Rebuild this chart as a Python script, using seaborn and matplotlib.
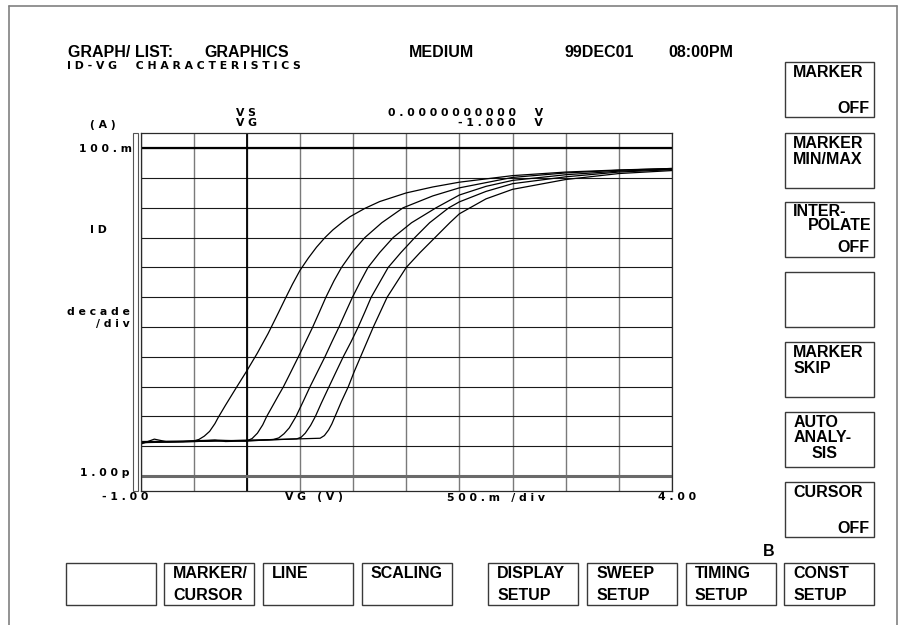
import numpy as np
import pandas as pd
import matplotlib
matplotlib.use("Agg")
import matplotlib.pyplot as plt
import seaborn as sns
from matplotlib.patches import Rectangle
from matplotlib.lines import Line2D
from matplotlib.ticker import NullLocator

sns.set_style("white")
plt.rcParams['font.family'] = ['Liberation Sans', 'DejaVu Sans']

# ID-VG sweep, five curves; ID stored as log10(A)
vg_1 = [-1.0, -0.87, -0.75, -0.6, -0.5, -0.45, -0.4, -0.35, -0.3, -0.27, -0.2, -0.1, 0.0, 0.1, 0.2,
        0.3, 0.36, 0.43, 0.5, 0.58, 0.656, 0.735, 0.81, 0.9, 0.97, 1.11, 1.25, 1.5, 1.75, 2.0, 2.5,
        3.0, 3.5, 4.0]
id_1 = [-10.93, -10.76, -10.85, -10.84, -10.82, -10.77, -10.66, -10.5, -10.24, -10.04, -9.62, -9.04,
        -8.47, -7.87, -7.22, -6.5, -6.06, -5.56, -5.1, -4.68, -4.32, -4.0, -3.74, -3.48, -3.3, -3.02,
        -2.79, -2.5, -2.3, -2.14, -1.92, -1.8, -1.73, -1.68]

vg_2 = [-1.0, -0.75, -0.5, -0.3, -0.2, 0.0, 0.05, 0.1, 0.15, 0.187, 0.25, 0.3, 0.345, 0.4, 0.485,
        0.55, 0.62, 0.68, 0.744, 0.82, 0.891, 1.0, 1.11, 1.27, 1.47, 1.75, 2.0, 2.5, 3.0, 3.5, 4.0]
id_2 = [-10.88, -10.84, -10.83, -10.8, -10.84, -10.82, -10.74, -10.56, -10.28, -10.0, -9.6, -9.28,
        -9.0, -8.61, -8.0, -7.52, -7.0, -6.52, -6.0, -5.45, -5.0, -4.45, -4.0, -3.5, -3.0, -2.6,
        -2.33, -1.98, -1.83, -1.74, -1.68]

vg_3 = [-1.0, -0.6, -0.3, 0.0, 0.2, 0.25, 0.3, 0.35, 0.4, 0.463, 0.53, 0.595, 0.665, 0.735, 0.8,
        0.867, 0.93, 0.994, 1.065, 1.14, 1.25, 1.376, 1.55, 1.78, 2.0, 2.25, 2.5, 3.0, 3.5, 4.0]
id_3 = [-10.84, -10.83, -10.79, -10.83, -10.78, -10.77, -10.72, -10.58, -10.38, -10.0, -9.5, -9.0,
        -8.5, -8.0, -7.5, -7.0, -6.5, -6.0, -5.5, -5.0, -4.5, -4.0, -3.5, -3.0, -2.57, -2.28, -2.08,
        -1.89, -1.77, -1.7]

vg_4 = [-1.0, -0.6, -0.2, 0.2, 0.47, 0.51, 0.55, 0.6, 0.645, 0.7, 0.767, 0.84, 0.907, 0.98, 1.048,
        1.11, 1.17, 1.25, 1.33, 1.45, 1.58, 1.72, 1.9, 2.0, 2.25, 2.5, 3.0, 3.5, 4.0]
id_4 = [-10.86, -10.85, -10.81, -10.79, -10.75, -10.7, -10.56, -10.3, -10.0, -9.56, -9.05, -8.5,
        -8.0, -7.5, -7.0, -6.5, -6.0, -5.5, -5.0, -4.5, -4.0, -3.5, -3.0, -2.8, -2.45, -2.19, -1.96,
        -1.8, -1.72]

vg_5 = [-1.0, -0.5, 0.0, 0.4, 0.69, 0.73, 0.77, 0.8, 0.83, 0.89, 0.955, 1.01, 1.07, 1.13, 1.19,
        1.255, 1.32, 1.41, 1.5, 1.63, 1.77, 1.91, 2.0, 2.25, 2.5, 3.0, 3.5, 4.0]
id_5 = [-10.88, -10.84, -10.8, -10.76, -10.73, -10.64, -10.45, -10.25, -10.0, -9.5, -9.0, -8.5, -8.0,
        -7.5, -7.0, -6.5, -6.0, -5.5, -5.0, -4.5, -4.0, -3.5, -3.2, -2.7, -2.38, -2.05, -1.85, -1.75]

x_grid = [-1.0, -0.5, 0.0, 0.5, 1.0, 1.5, 2.0, 2.5, 3.0, 3.5, 4.0]
y_grid = [1e-12, 1e-11, 1e-10, 1e-9, 1e-8, 1e-7, 1e-6, 1e-5, 1e-4, 1e-3, 1e-2, 1e-1]

header = [("GRAPH/ LIST:", 67.7), ("GRAPHICS", 204.3), ("MEDIUM", 409), ("99DEC01", 564.3), ("08:00PM", 668.3)]

side_keys = [["MARKER", "", "OFF"], ["MARKER", "MIN/MAX"], ["INTER-", "POLATE", "OFF"], [],
             ["MARKER", "SKIP"], ["AUTO", "ANALY-", "SIS"], ["CURSOR", "", "OFF"]]
bottom_keys = [[], ["MARKER/", "CURSOR"], ["LINE"], ["SCALING"], ["DISPLAY", "SETUP"],
               ["SWEEP", "SETUP"], ["TIMING", "SETUP"], ["CONST", "SETUP"]]

curves = [(vg_1, id_1), (vg_2, id_2), (vg_3, id_3), (vg_4, id_4), (vg_5, id_5)]
df = pd.concat([pd.DataFrame({"VG": v, "ID": 10.0 ** np.array(i), "curve": n})
                for n, (v, i) in enumerate(curves)], ignore_index=True)

W, H = 900, 625
fig = plt.figure(figsize=(9, 6.25), dpi=100)
fig.patch.set_facecolor("white")


def fx(x):
    return x / W


def fy(y):
    return 1 - y / H


def put(x, y, s, ha="left", **kw):
    fig.text(fx(x), fy(y), s, ha=ha, va="baseline", color="black", **kw)


def spaced(s):
    return " ".join(s)


big = dict(family="Liberation Sans", weight="bold", size=11.5)
small = dict(family="DejaVu Sans", weight="bold", size=7.8)

# plot area
L, R, T, B = 140.5, 672, 133.3, 491
ax = fig.add_axes([fx(L), fy(B), (R - L) / W, (B - T) / H])
sns.lineplot(data=df, x="VG", y="ID", units="curve", estimator=None, sort=False,
             color="black", linewidth=0.9, legend=False, ax=ax)
ax.set_yscale("log")
ax.set_xlim(-1, 4)
ax.set_ylim(10 ** -12.5, 10 ** -0.5)
ax.set_xticks(x_grid)
ax.set_yticks(y_grid)
ax.yaxis.set_minor_locator(NullLocator())
ax.tick_params(length=0, labelbottom=False, labelleft=False)
ax.set_xlabel("")
ax.set_ylabel("")
ax.set_axisbelow(True)
ax.xaxis.grid(True, color="#7a7a7a", lw=1.0)
ax.yaxis.grid(True, color="#1a1a1a", lw=0.8)
ax.axvline(0, color="black", lw=1.3, zorder=1)
ax.axhline(1e-1, color="black", lw=1.6, zorder=1)
ax.axhline(1e-12, color="#6a6a6a", lw=2.2, zorder=1)
for sp in ax.spines.values():
    sp.set_color("#2a2a2a")
    sp.set_linewidth(0.9)

# narrow bar left of the plot
fig.add_artist(Rectangle((fx(133.3), fy(491)), 4.4 / W, (491 - 133.3) / H, transform=fig.transFigure,
                         fill=False, ec="#555555", lw=0.8))

# outer frame
for xs, ys in [([9, 9], [6, 625]), ([9, 897], [6, 6]), ([897, 897], [6, 625])]:
    fig.add_artist(Line2D([fx(v) for v in xs], [fy(v) for v in ys], transform=fig.transFigure,
                          color="#808080", lw=1.2))

# header
for s, x in header:
    put(x, 57.3, s, **big)
put(67, 69, spaced("ID-VG  CHARACTERISTICS"), **small)
put(236, 116.5, spaced("VS"), **small)
put(236, 126.5, spaced("VG"), **small)
put(543, 116.5, spaced("0.0000000000  V"), ha="right", **small)
put(543, 126.5, spaced("-1.000  V"), ha="right", **small)

# axis annotations
put(90, 128, spaced("(A)"), **small)
put(132, 152.5, spaced("100.m"), ha="right", **small)
put(90, 233, spaced("ID"), **small)
put(130, 315, spaced("decade"), ha="right", **small)
put(130, 326.5, spaced("/div"), ha="right", **small)
put(130, 476.5, spaced("1.00p"), ha="right", **small)
put(101.7, 500.5, spaced("-1.00"), **small)
put(285, 500.5, spaced("VG (V)"), **small)
put(446.7, 500.5, spaced("500.m /div"), **small)
put(658.3, 500.5, spaced("4.00"), **small)


def box(x, y, w, h):
    fig.add_artist(Rectangle((fx(x), fy(y + h)), w / W, h / H, transform=fig.transFigure,
                             fill=False, ec="#3a3a3a", lw=1.0))


# right softkeys
side_tops = [62.3, 132.5, 202.3, 272.3, 341.7, 411.7, 481.7]
for top, lines in zip(side_tops, side_keys):
    box(785, top, 89.3, 55)
    if len(lines) == 2:
        put(793.3, top + 15, lines[0], **big)
        put(793.3, top + 31.5, lines[1], **big)
    elif lines and lines[0] in ("MARKER", "CURSOR"):
        put(793.3, top + 15, lines[0], **big)
        put(869.3, top + 51, lines[2], ha="right", **big)
    elif lines and lines[0] == "INTER-":
        put(793.3, top + 13.7, lines[0], **big)
        put(871.5, top + 27.7, lines[1], ha="right", **big)
        put(869.3, top + 49.4, lines[2], ha="right", **big)
    elif lines:
        put(793.3, top + 15, lines[0], **big)
        put(793.3, top + 30.3, lines[1], **big)
        put(811.7, top + 46.6, lines[2], **big)

# bottom softkeys
bottom_lefts = [66, 164.3, 263.3, 361.7, 488.3, 587.3, 686, 784.3]
for left, lines in zip(bottom_lefts, bottom_keys):
    box(left, 562.7, 90, 42.6)
    for k, s in enumerate(lines):
        put(left + 9, 578.3 + 21.7 * k, s, **big)
put(762.7, 556, "B", **big)

fig.savefig("out.png", dpi=100, facecolor="white")
